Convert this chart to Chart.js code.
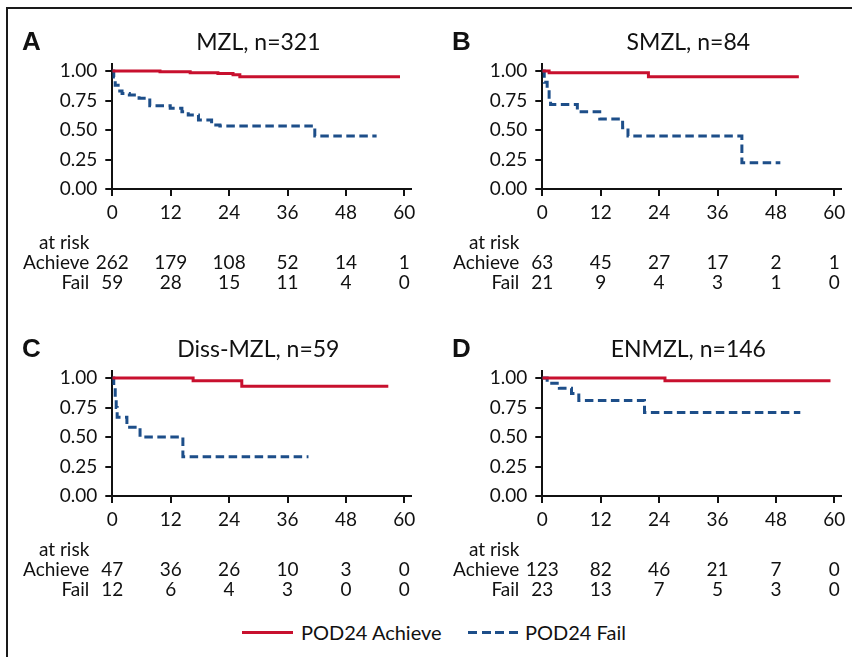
<!DOCTYPE html>
<html>
<head>
<meta charset="utf-8">
<script src="https://cdn.jsdelivr.net/npm/chart.js@4.4.1/dist/chart.umd.min.js"></script>
<style>
  body { margin:0; background:#fff; width:852px; height:657px; overflow:hidden; position:relative; font-family:Lato, sans-serif; color:#111; }
  #frame { position:absolute; left:6px; top:7px; width:900px; height:700px; border-left:2px solid #1a1a1a; border-top:2px solid #1a1a1a; }
  canvas { position:absolute; }
  .leg-line { position:absolute; height:3px; }
  .leg-txt { position:absolute; font-size:20px; line-height:24px; }
</style>
</head>
<body>
<div id="frame"></div>
<canvas id="cA" width="422" height="306" style="left:0;top:0"></canvas>
<canvas id="cB" width="422" height="306" style="left:430px;top:0"></canvas>
<canvas id="cC" width="422" height="306" style="left:0;top:307px"></canvas>
<canvas id="cD" width="422" height="306" style="left:430px;top:307px"></canvas>

<div class="leg-line" style="left:242px;top:631px;width:51px;background:#c8102e"></div>
<div class="leg-txt" style="left:301px;top:620px">POD24 Achieve</div>
<div class="leg-line" style="left:468px;top:631px;width:50px;background:repeating-linear-gradient(to right,#1d4e89 0 9px,transparent 9px 13.5px)"></div>
<div class="leg-txt" style="left:525px;top:620px">POD24 Fail</div>

<script>
// courbes KM : [mois, survie]
const xTicks = [0, 12, 24, 36, 48, 60];
const yTicks = [0, 0.25, 0.5, 0.75, 1];

const mzlAchieve = [[0,1],[9.8,0.994],[16,0.986],[21.7,0.98],[24.8,0.968],[26.2,0.952],[59.1,0.952]];
const mzlFail = [[0,1],[0.3,0.95],[0.6,0.88],[1.2,0.83],[2,0.81],[3.5,0.797],[5.5,0.77],[7.7,0.705],[11.9,0.685],
                 [14.3,0.655],[15.6,0.627],[17.7,0.585],[20.4,0.542],[22.1,0.534],[41.6,0.449],[54.3,0.449]];

const smzlAchieve = [[0,1],[1.4,0.986],[21.8,0.952],[52.7,0.952]];
const smzlFail = [[0,1],[0.4,0.905],[1,0.857],[1.4,0.762],[1.7,0.716],[7.2,0.655],[11.8,0.593],[16.5,0.52],
                  [17.6,0.449],[41,0.223],[48.9,0.223]];

const dissAchieve = [[0,1],[16.6,0.977],[26.6,0.931],[56.7,0.931]];
const dissFail = [[0,1],[0.3,0.917],[0.6,0.833],[0.8,0.75],[1,0.667],[3,0.583],[5.7,0.5],[14.5,0.333],[40.3,0.333]];

const enmzlAchieve = [[0,1],[25.2,0.977],[59.2,0.977]];
const enmzlFail = [[0,1],[1,0.957],[3.5,0.913],[6,0.87],[7.5,0.81],[21,0.708],[53,0.708]];

// nombres à risque aux temps xTicks
const mzlRiskAchieve = [262, 179, 108, 52, 14, 1];
const mzlRiskFail = [59, 28, 15, 11, 4, 0];
const smzlRiskAchieve = [63, 45, 27, 17, 2, 1];
const smzlRiskFail = [21, 9, 4, 3, 1, 0];
const dissRiskAchieve = [47, 36, 26, 10, 3, 0];
const dissRiskFail = [12, 6, 4, 3, 0, 0];
const enmzlRiskAchieve = [123, 82, 46, 21, 7, 0];
const enmzlRiskFail = [23, 13, 7, 5, 3, 0];

const RED = '#c8102e';
const BLUE = '#1d4e89';
const INK = '#111';

// lettre, titre et tableau "at risk" dessinés depuis les échelles
const panelText = {
  id: 'panelText',
  afterDraw(chart, args, opts) {
    const { ctx } = chart;
    const x = chart.scales.x, y = chart.scales.y;
    const x0 = x.getPixelForValue(0), x60 = x.getPixelForValue(60);
    const y1 = y.getPixelForValue(1), y0 = y.getPixelForValue(0);
    ctx.save();
    ctx.fillStyle = INK;
    ctx.textBaseline = 'middle';
    ctx.font = 'bold 26px "Liberation Sans"';
    ctx.textAlign = 'left';
    ctx.fillText(opts.letter, 22, y1 - 28);
    ctx.font = '23px Lato';
    ctx.textAlign = 'center';
    ctx.fillText(opts.title, (x0 + x60) / 2, y1 - 28.5);
    ctx.font = '19px Lato';
    ctx.textAlign = 'right';
    ctx.fillText('at risk', x0 - 23, y0 + 54);
    ctx.fillText('Achieve', x0 - 23, y0 + 73.5);
    ctx.fillText('Fail', x0 - 23, y0 + 93.5);
    ctx.textAlign = 'center';
    xTicks.forEach((t, i) => {
      ctx.fillText(String(opts.achieve[i]), x.getPixelForValue(t), y0 + 73.5);
      ctx.fillText(String(opts.fail[i]), x.getPixelForValue(t), y0 + 93.5);
    });
    ctx.restore();
  }
};

const pts = arr => arr.map(([t, s]) => ({ x: t, y: s }));
const tickFont = { family: 'Lato', size: 19 };

function makePanel(id, letter, title, achieve, fail, riskA, riskF) {
  new Chart(document.getElementById(id), {
    type: 'line',
    data: {
      datasets: [
        { label: 'POD24 Achieve', data: pts(achieve), borderColor: RED, borderWidth: 3, stepped: true, pointRadius: 0, fill: false },
        { label: 'POD24 Fail', data: pts(fail), borderColor: BLUE, borderWidth: 3, borderDash: [8.5, 4.5], stepped: true, pointRadius: 0, fill: false }
      ]
    },
    options: {
      responsive: false,
      animation: false,
      layout: { padding: { left: 0, top: 64, right: 11.3, bottom: 87 } },
      plugins: {
        legend: { display: false },
        tooltip: { enabled: false },
        panelText: { letter: letter, title: title, achieve: riskA, fail: riskF }
      },
      scales: {
        x: {
          type: 'linear', min: 0, max: 61.3,
          afterBuildTicks: s => { s.ticks = xTicks.map(v => ({ value: v })); },
          afterFit: s => { s.height = 30; },
          border: { display: true, color: INK, width: 2 },
          grid: { drawOnChartArea: false, drawTicks: true, tickLength: 7, color: INK, lineWidth: 2 },
          ticks: { font: tickFont, color: INK, padding: 5, maxRotation: 0, autoSkip: false }
        },
        y: {
          type: 'linear', min: 0, max: 1.06,
          afterBuildTicks: s => { s.ticks = yTicks.map(v => ({ value: v })); },
          afterFit: s => { s.width = 112.3; },
          border: { display: true, color: INK, width: 2 },
          grid: { drawOnChartArea: false, drawTicks: true, tickLength: 7, color: INK, lineWidth: 2 },
          ticks: { font: tickFont, color: INK, padding: 8, callback: v => Number(v).toFixed(2) }
        }
      }
    },
    plugins: [panelText]
  });
}

makePanel('cA', 'A', 'MZL, n=321', mzlAchieve, mzlFail, mzlRiskAchieve, mzlRiskFail);
makePanel('cB', 'B', 'SMZL, n=84', smzlAchieve, smzlFail, smzlRiskAchieve, smzlRiskFail);
makePanel('cC', 'C', 'Diss-MZL, n=59', dissAchieve, dissFail, dissRiskAchieve, dissRiskFail);
makePanel('cD', 'D', 'ENMZL, n=146', enmzlAchieve, enmzlFail, enmzlRiskAchieve, enmzlRiskFail);
</script>
</body>
</html>
